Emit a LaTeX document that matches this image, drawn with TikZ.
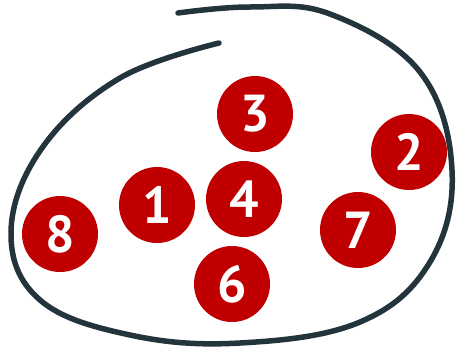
\documentclass[tikz,border=0pt]{standalone}
\usepackage{fontspec}
\setsansfont{PT Sans}
\usepackage{tikz}
\definecolor{dotred}{RGB}{192,0,0}
\definecolor{loopgray}{RGB}{36,52,60}

\begin{document}
\begin{tikzpicture}[x=1pt, y=-1pt,
    num/.style={circle, fill=dotred, minimum size=76pt, inner sep=0pt, text=white,
        font=\sffamily\bfseries\fontsize{52}{52}\selectfont}]
    \useasboundingbox (0,0) rectangle (462,351);
    % the loop round the dots
    \draw[loopgray, line width=5.5pt, line cap=round] plot[smooth, tension=0.65] coordinates {
        (219,43) (120,78) (42,148) (11,232) (40,300) (130,335) (240,343)
        (360,322) (430,262) (452,170) (420,72) (330,14) (250,7) (178,13)};
    \node[num] (n3) at (255,114) {3};
    \node[num] (n2) at (409,152) {2};
    \node[num] (n4) at (244,199) {4};
    \node[num] (n1) at (157,205) {1};
    \node[num] (n8) at (60,234) {8};
    \node[num] (n7) at (358,230) {7};
    \node[num] (n6) at (232,284) {6};
\end{tikzpicture}
\end{document}
